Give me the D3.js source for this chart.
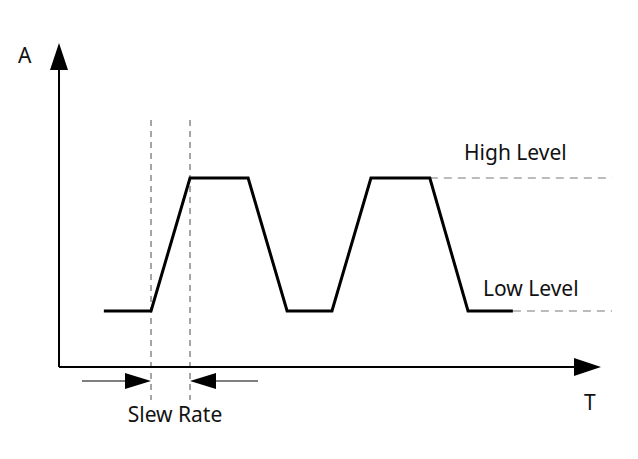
<!DOCTYPE html>
<html><head><meta charset="utf-8">
<script src="https://cdn.jsdelivr.net/npm/d3@7"></script>
<style>body{margin:0;background:#fff}</style></head>
<body><svg id="c" width="638" height="459"></svg>
<script>
const times=[1.15,2.36,3.36,4.85,5.85,7.0,8.0,9.51,10.49,11.64];
const amps=[1,1,3.375,3.375,1,1,3.375,3.375,1,1];
const levels=[{name:"High Level",v:3.375,from:9.51},{name:"Low Level",v:1,from:11.64}];
const slewEdges=[2.36,3.36];
const axisLabels=["A","T"];

const svg=d3.select("#c");
const x=d3.scaleLinear().domain([0,13.9]).range([59,601]);
const y=d3.scaleLinear().domain([0,5.75]).range([367,45]);
const font="'Noto Sans', sans-serif";

// dashed level lines
levels.forEach(l=>{
  svg.append("line").attr("x1",x(l.from)).attr("x2",612).attr("y1",y(l.v)).attr("y2",y(l.v))
    .attr("stroke","#bbb").attr("stroke-width",2).attr("stroke-dasharray","8,6");
});
// vertical dashed
slewEdges.forEach(t=>{
  svg.append("line").attr("x1",x(t)).attr("x2",x(t)).attr("y1",120).attr("y2",400)
    .attr("stroke","#888").attr("stroke-width",1.5).attr("stroke-dasharray","6,5");
});
// axes
svg.append("line").attr("x1",59).attr("x2",59).attr("y1",367).attr("y2",60).attr("stroke","#000").attr("stroke-width",2);
svg.append("line").attr("x1",59).attr("x2",585).attr("y1",367).attr("y2",367).attr("stroke","#000").attr("stroke-width",2);
svg.append("path").attr("d","M59,43 L50,70 L68,70 Z").attr("fill","#000");
svg.append("path").attr("d","M601,367 L574,358 L574,376 Z").attr("fill","#000");
// waveform
svg.append("path").datum(times.map((t,i)=>[t,amps[i]]))
  .attr("d",d3.line().x(d=>x(d[0])).y(d=>y(d[1])))
  .attr("fill","none").attr("stroke","#000").attr("stroke-width",3).attr("stroke-linejoin","miter");
// slew arrows
const ay=381;
svg.append("line").attr("x1",82).attr("x2",x(slewEdges[0])-20).attr("y1",ay).attr("y2",ay).attr("stroke","#000").attr("stroke-width",1.2);
svg.append("path").attr("d",`M${x(slewEdges[0])},${ay} L${x(slewEdges[0])-26},${ay-8} L${x(slewEdges[0])-26},${ay+8} Z`).attr("fill","#000");
svg.append("line").attr("x1",258).attr("x2",x(slewEdges[1])+20).attr("y1",ay).attr("y2",ay).attr("stroke","#000").attr("stroke-width",1.2);
svg.append("path").attr("d",`M${x(slewEdges[1])},${ay} L${x(slewEdges[1])+26},${ay-8} L${x(slewEdges[1])+26},${ay+8} Z`).attr("fill","#000");
// texts
const txt=(s,tx,ty,anchor)=>svg.append("text").attr("x",tx).attr("y",ty).attr("text-anchor",anchor||"start")
  .attr("font-family",font).attr("font-size",21).attr("fill","#111").text(s);
txt(axisLabels[0],18,63);
txt(axisLabels[1],584,410);
txt("Slew Rate",175,422,"middle");
txt(levels[0].name,464,160);
txt(levels[1].name,483,296);
</script></body></html>
